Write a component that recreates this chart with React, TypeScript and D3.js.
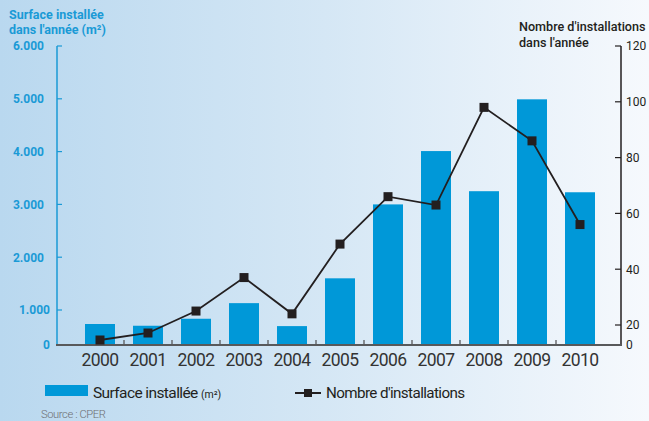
import React from 'react';
import * as d3 from 'd3';

const years = ['2000', '2001', '2002', '2003', '2004', '2005', '2006', '2007', '2008', '2009', '2010'];
const surface = [600, 550, 750, 1130, 540, 1600, 3000, 4010, 3250, 4990, 3230];
const installations = [5, 12, 25, 37, 24, 49, 66, 63, 98, 86, 56];
const leftTicks = [0, 1000, 2000, 3000, 4000, 5000, 6000];
const leftTickLabels = ['0', '1.000', '2.000', '3.000', '4.000', '5.000', '6.000'];
const rightTicks = [0, 20, 40, 60, 80, 100, 120];

const W = 649;
const H = 421;
const BLUE = '#0098d8';
const AXIS_BLUE = '#1a9ad6';
const DARK = '#231f20';
const FONT = 'Roboto, sans-serif';

export default function App() {
  const x = d3.scaleBand<string>().domain(years).range([76, 604]).paddingInner(0.375).paddingOuter(0.1875);
  const yL = d3.scaleLinear().domain([0, 1000, 6000]).range([345, 310, 46]);
  const yR = d3.scaleLinear().domain([0, 20, 120]).range([345, 325, 46]);
  const bw = x.bandwidth();
  const step = x.step();
  const cx = (d: string) => (x(d) ?? 0) + bw / 2;
  const line = d3
    .line<number>()
    .x((_, i) => cx(years[i]))
    .y((d) => yR(d));
  const base = yL(0);
  const xTicks = years.slice(0, -1).map((d) => cx(d) + step / 2);

  return (
    <svg width={W} height={H} style={{ position: 'absolute', left: 0, top: 0, display: 'block' }}>
      <defs>
        <linearGradient id="bg" x1="0" x2="1" y1="0" y2="0">
          <stop offset="0" stopColor="#b9d8ef" />
          <stop offset="0.5" stopColor="#d5e7f5" />
          <stop offset="1" stopColor="#f6f9fd" />
        </linearGradient>
      </defs>
      <rect x={0} y={0} width={W} height={H} fill="url(#bg)" />

      {/* titles */}
      <text x={9} y={19} fill={AXIS_BLUE} fontFamily={FONT} fontWeight="bold" fontSize={12.5}>
        Surface installée
      </text>
      <text x={9} y={34} fill={AXIS_BLUE} fontFamily={FONT} fontWeight="bold" fontSize={12.5}>
        dans l'année (m²)
      </text>
      <text x={519} y={31} fill={DARK} fontFamily={FONT} fontWeight={500} fontSize={12.6}>
        Nombre d'installations
      </text>
      <text x={519} y={47} fill={DARK} fontFamily={FONT} fontWeight={500} fontSize={12.6}>
        dans l'année
      </text>

      {/* bars */}
      {surface.map((v, i) => (
        <rect key={years[i]} x={x(years[i])} y={yL(v)} width={bw} height={base - yL(v)} fill={BLUE} />
      ))}

      {/* left axis */}
      <line x1={57} x2={57} y1={yL(6000)} y2={base} stroke={AXIS_BLUE} strokeWidth={1.5} />
      {leftTicks.map((t, i) => (
        <g key={t}>
          {t > 0 && <line x1={57} x2={62} y1={yL(t)} y2={yL(t)} stroke={AXIS_BLUE} strokeWidth={1.2} />}
          <text
            x={t <= 1000 ? 50 : 44}
            y={yL(t)}
            dy="0.36em"
            textAnchor="end"
            fill={AXIS_BLUE}
            fontFamily={FONT}
            fontWeight="bold"
            fontSize={12}
          >
            {leftTickLabels[i]}
          </text>
        </g>
      ))}

      {/* right axis */}
      <line x1={621} x2={621} y1={yR(120)} y2={base} stroke={DARK} strokeWidth={1.5} />
      {rightTicks.map((t) => (
        <g key={t}>
          {t > 0 && <line x1={615} x2={621} y1={yR(t)} y2={yR(t)} stroke={DARK} strokeWidth={1.2} />}
          <text x={626} y={yR(t)} dy="0.36em" fill={DARK} fontFamily={FONT} fontSize={12}>
            {t}
          </text>
        </g>
      ))}

      {/* x axis */}
      <line x1={56} x2={622} y1={base} y2={base} stroke="#58595b" strokeWidth={2} />
      {xTicks.map((t, i) => (
        <line key={i} x1={t} x2={t} y1={base} y2={base - 5} stroke="#58595b" strokeWidth={1.3} />
      ))}
      {years.map((d) => (
        <text key={d} x={cx(d)} y={366} textAnchor="middle" fill="#333" fontFamily={FONT} fontSize={17.5} letterSpacing={-0.6}>
          {d}
        </text>
      ))}

      {/* line series */}
      <path d={line(installations) ?? ''} fill="none" stroke={DARK} strokeWidth={1.8} />
      {installations.map((v, i) => (
        <rect key={years[i]} x={cx(years[i]) - 4.5} y={yR(v) - 4.5} width={9} height={9} fill={DARK} />
      ))}

      {/* legend */}
      <rect x={45} y={385} width={43} height={11} fill={BLUE} />
      <text x={93} y={398} fill={DARK} fontFamily={FONT} fontSize={15.5} letterSpacing={-0.6}>
        Surface installée <tspan fontSize={10.5} letterSpacing={0}>(m²)</tspan>
      </text>
      <line x1={295} x2={321} y1={393} y2={393} stroke={DARK} strokeWidth={2} />
      <rect x={304} y={389} width={8} height={8} fill={DARK} />
      <text x={326} y={398} fill={DARK} fontFamily={FONT} fontSize={15.2} letterSpacing={-0.6}>
        Nombre d'installations
      </text>
      <text x={41} y={418} fill="#6d6e71" fontFamily={FONT} fontWeight={300} fontSize={11.2} letterSpacing={-0.4}>
        Source : CPER
      </text>
    </svg>
  );
}
